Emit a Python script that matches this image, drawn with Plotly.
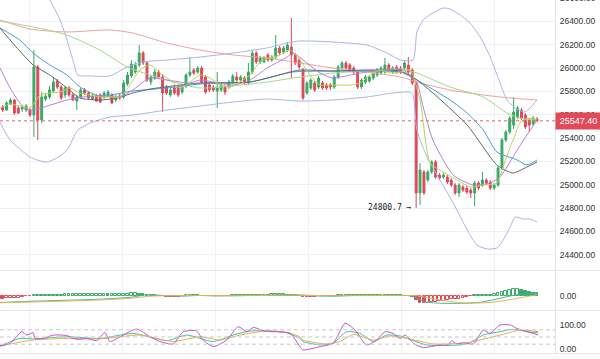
import plotly.graph_objects as go

# ---------------- candle data (index 0..137) ----------------
opens = [25666,25640,25692,25726,25657,25649,25640,25640,25597,26009,
         25554,25734,25752,25803,25889,25837,25769,25829,25769,25717,
         25752,25812,25786,25734,25760,25769,25752,25769,25769,25726,
         25760,25752,25863,25932,25966,26026,26129,26043,25880,25914,
         25966,25923,25837,25769,25829,25837,25794,25846,25940,25983,
         25966,26000,25923,25854,25837,25803,25812,25837,25837,25880,
         25923,25897,25914,25872,25966,26129,26052,26052,26112,26069,
         26094,26172,26137,26154,26180,26112,26069,25983,25786,25829,
         25872,25837,25872,25854,25854,25837,25923,26000,26043,26026,
         26000,25966,25837,25880,25889,25914,25940,25957,25966,26026,
         25966,26009,26000,26000,26026,25983,25872,24929,25109,25040,
         25109,25194,25083,25066,25066,25040,24997,24929,24980,24971,
         24954,24929,25014,24997,25040,25023,24971,24997,25143,25383,
         25452,25511,25580,25640,25597,25554,25520,25563]
highs = [25683,25717,25743,25734,25674,25683,25692,25657,26154,26026,
         25794,25786,25846,25923,25906,25854,25846,25846,25786,25769,
         25829,25829,25803,25777,25777,25786,25803,25812,25786,25769,
         25777,25897,25966,26069,26052,26197,26146,26060,25940,25992,
         25983,25949,25854,25829,25846,25854,25854,25957,26094,26000,
         26017,26017,25940,25872,25854,25966,25872,25854,25897,25949,
         25966,25940,25932,26043,26154,26146,26103,26103,26129,26112,
         26283,26189,26189,26223,26429,26129,26086,26000,25889,25914,
         25889,25932,25889,25872,25872,25940,26026,26060,26060,26043,
         26017,25983,25914,25940,25940,25974,26000,26017,26086,26043,
         26017,26026,26017,26060,26094,26000,25889,25186,25126,25126,
         25211,25211,25100,25100,25083,25057,25014,25014,24997,24989,
         24971,25032,25032,25109,25057,25040,25014,25160,25400,25469,
         25589,25752,25674,25657,25614,25571,25589,25580]
lows = [25623,25632,25683,25597,25606,25623,25623,25580,25409,25383,
        25529,25717,25734,25786,25820,25726,25743,25752,25717,25640,
        25734,25769,25734,25726,25709,25700,25734,25752,25692,25709,
        25726,25734,25846,25914,25949,26009,26026,25880,25854,25897,
        25906,25623,25769,25752,25769,25752,25777,25829,25923,25940,
        25949,25863,25777,25794,25794,25657,25794,25769,25820,25863,
        25880,25880,25854,25854,25949,26034,26034,26043,26052,26052,
        26077,26112,26120,26137,25914,26026,25992,25726,25769,25812,
        25794,25820,25812,25812,25812,25820,25906,25983,25983,25966,
        25949,25820,25820,25863,25872,25897,25923,25940,25949,25966,
        25949,25949,25949,25983,25949,25854,24800.7,24826,24912,25023,
        25092,25049,25040,25049,25006,24980,24912,24894,24937,24920,
        24886,24815,24954,24980,24997,24954,24954,24980,25126,25366,
        25434,25477,25563,25554,25477,25452,25503,25537]
closes = [25640,25700,25726,25614,25614,25666,25674,25597,26009,25554,
          25752,25760,25812,25880,25837,25743,25829,25769,25726,25752,
          25812,25786,25743,25760,25717,25709,25786,25794,25700,25752,
          25743,25872,25940,26034,26026,26129,26043,25897,25923,25966,
          25923,25786,25786,25812,25786,25769,25837,25940,25966,25957,
          26000,25880,25794,25812,25812,25829,25854,25794,25880,25932,
          25897,25923,25872,25966,26129,26052,26086,26086,26069,26094,
          26172,26129,26172,26197,26112,26043,26009,25743,25872,25897,
          25812,25914,25829,25829,25837,25923,26009,26043,26000,25983,
          25966,25837,25897,25923,25923,25957,25983,26000,26026,25983,
          26000,25966,25966,26043,25966,25872,24929,25126,24929,25109,
          25194,25066,25057,25083,25023,24997,24929,24997,24954,24937,
          24929,25014,24971,25040,25014,24971,24997,25143,25383,25452,
          25571,25623,25657,25571,25494,25511,25571,25547.4]
idx = list(range(len(closes)))

# ---------------- overlay indicators: (candle index, price) ----------------
ma5_i = [-0.7,1.9,4.4,7.0,9.6,12.1,14.7,17.3,19.8,22.4,24.9,27.5,30.1,32.6,35.2,37.8,40.3,42.9,45.5,48.0,
         50.6,53.2,55.7,58.3,60.8,63.4,66.0,68.5,71.1,73.7,76.2,78.8,81.4,83.9,86.5,89.1,91.6,94.2,96.7,99.3,
         101.9,104.4,107.0,109.6,112.9,116.5,119.8,123.2,126.7,128.3,130.1,131.4,132.6,135.2,137.0]
ma5_v = [25657,25692,25674,25657,25769,25786,25794,25829,25786,25769,25752,25752,25752,25854,25983,26026,25957,25897,25829,25880,
         25940,25914,25854,25837,25880,25940,26052,26086,26112,26154,26069,25940,25854,25854,25854,25854,25872,25940,25983,25957,
         25966,25983,25726,25186,25109,25040,24980,24997,25014,25152,25323,25426,25529,25571,25554]
ma10_i = [-0.7,1.9,4.4,6.2,9.6,16.5,20.6,24.9,30.1,33.4,36.0,37.8,42.1,48.0,50.6,59.1,63.4,67.8,72.9,74.4,
          78.0,81.4,84.7,89.1,93.4,99.3,102.7,106.2,107.8,110.3,115.5,120.6,124.9,127.5,131.9,134.4,137.0]
ma10_v = [26000,25829,25700,25640,25657,25726,25752,25760,25752,25812,25880,25914,25897,25872,25897,25854,25897,26000,26094,26129,
          26043,25957,25914,25940,25966,25983,25983,25872,25666,25383,25083,24997,25014,25066,25297,25426,25554]
ma20_i = [-0.7,1.9,7.8,12.1,16.5,19.8,24.9,29.3,33.4,37.8,50.6,63.4,73.7,76.2,84.7,93.4,101.9,105.2,110.3,119.1,
          126.7,130.8,134.4,137.0]
ma20_v = [26343,26240,26026,25940,25829,25743,25726,25743,25786,25820,25872,25880,25966,25983,25974,25983,25974,25923,25786,25511,
          25169,25100,25152,25194]
ma30_i = [-0.7,4.4,7.8,12.1,16.5,19.8,24.9,33.4,42.1,50.6,63.4,74.4,84.7,93.4,101.9,106.2,114.7,119.1,123.2,126.7,
          131.9,134.4,137.0]
ma30_v = [26343,26240,26129,26026,25940,25837,25760,25803,25829,25863,25880,25966,25974,25974,25966,25897,25726,25614,25469,25280,
          25212,25169,25212]
ma60_i = [-0.7,7.8,16.5,24.9,31.9,42.1,50.6,67.8,74.4,84.7,93.4,101.9,106.2,114.7,123.2,129.3,132.6,137.0]
ma60_v = [26403,26352,26283,26154,26009,25897,25829,25880,25914,25957,25974,25992,25957,25837,25752,25614,25571,25554]
ma120_i = [-0.7,7.0,16.5,27.5,33.4,42.1,50.6,59.1,67.8,76.2,84.7,93.4,101.9,107.0,114.7,123.2,130.1,137.0]
ma120_v = [26412,26334,26309,26326,26300,26214,26154,26112,26086,26043,26000,25966,25923,25872,25812,25769,25743,25726]
bbu_i = [-0.7,7.0,12.1,14.7,16.5,18.0,19.3,22.4,27.5,31.9,36.0,42.1,50.6,59.1,67.8,72.9,76.2,84.7,93.4,98.5,
         101.9,105.2,106.2,107.8,110.3,112.9,114.7,117.3,119.8,122.4,125.0,127.5,129.3,131.4,133.9,137.0]
bbu_v = [27100,26850,26583,26412,26240,26069,25940,25932,25932,26009,26052,26069,26094,26129,26172,26214,26232,26223,26197,26129,
         26069,26069,26309,26412,26472,26514,26506,26454,26386,26266,26094,25872,25726,25657,25623,25726]
bbl_i = [-0.7,1.9,7.0,8.8,11.4,13.9,16.5,19.3,22.4,27.5,33.4,42.1,50.6,59.1,67.8,76.2,84.7,93.4,100.1,104.4,
         105.2,106.2,108.8,112.1,115.5,119.1,121.6,124.2,126.7,128.3,130.1,131.4,133.4,135.2,137.0]
bbl_v = [25537,25383,25237,25212,25194,25229,25297,25469,25529,25580,25597,25640,25674,25709,25734,25717,25726,25752,25786,25794,
         25769,25469,25237,25040,24843,24612,24483,24449,24457,24526,24637,24723,24706,24706,24680]

# ---------------- MACD ----------------
macd_hist = [-12,-11,-10,-9,-8,-6,-3,-2,
             2,2,3,3,3,4,4,4,5,5,5,5,6,6,6,6,6,6,6,5,5,5,6,7,8,9,9,8,6,
             4,3,2,
             -2,-3,-4,-5,-5,-4,-2,
             2,3,3,2,
             -2,-3,-3,-3,-2,-2,-2,-1,
             1,2,2,2,3,3,3,4,4,4,5,5,5,5,4,3,2,
             -3,-5,-6,-5,-4,
             -3,-2,-2,-1,-1,1,2,
             3,3,3,
             2,2,2,1,1,2,2,2,2,2,1,1,-1,-2,
             -6,-16,-28,-31,-31,-27,-24,-22,-20,-18,-15,-13,-12,-10,-6,-3,2,2,3,3,
             4,8,12,16,19,21,25,26,23,19,15,11,9]
dif_i = [-0.7,8,25,33,36,38,42,46,50,55,60,70,75,80,85,90,95,100,104,106,108,112,119,122.4,125.7,129.3,132.6,137]
dif_v = [-27,-22,-14,-6,2,4,0,-2,1,-1,0,3,4,-1,-2,1,1,2,0,-8,-24,-30,-30,-26,-17,-4,6,9]
dea_i = [-0.7,8,25,33,38,45,60,75,85,100,104,106,112,117.3,120.6,125.7,130.8,136,137]
dea_v = [-28,-25,-17,-10,-2,1,0,2,0,1,1,0,-17,-28,-30,-26,-14,1.5,5]

# ---------------- KDJ ----------------
k_i = [-0.7,4.4,7.8,16.4,24.9,33.5,42,47.2,54,59.1,63.4,72,76.2,77,81.4,84.7,88.2,91.6,95,98.5,101.9,108.7,119,123.2,127.5,130.9,136,137.3]
k_v = [12.5,44,42,51,44,65,35,58,31,58,75,71,44,31,17,24,72,65,31,58,54,17,21,58,72,82,69,68]
d_i = [-0.7,7.8,16.4,24.9,35.2,43.7,50.6,55.7,60.8,66,72.8,76.2,77,83.1,86.5,89.9,95,99.3,103.6,110.4,119,124.1,129.2,132.6,137.3]
d_v = [12.5,37.5,44,42,58,31,51,37.5,58,72,69,51,37.5,21,31,61,37.5,54,44,21,26,44,65,79,72]
j_i = [-0.7,1.9,4.9,6.2,7.8,8.3,10.4,13,16.4,19,21.5,24.1,26.2,27.5,30.1,34.3,37.8,40.3,43.7,46.3,
       49.7,51.4,54,57.4,60.4,62.6,64.3,66.8,70.3,73.7,76.2,77,81.4,84.7,87.8,90.3,93.3,95.9,98,100.1,
       101.9,103.2,105.3,107.8,112.1,114.3,115.1,116.4,118.1,120.7,123.2,124.9,127.5,130.1,131.8,134.4,136,137.3]
j_v = [12.5,23.6,72,58,68,44,44,58,56,40,44,35,69,31,51,83,51,31,21,72,
       75,37,10,37,93,72,90,76,72,65,10,-4,10,24,107,79,17,37,72,65,
       44,58,24,6,17,17,35,21,26,21,79,65,100,100,86,72,65,58]

# ---------------- right-axis tick values ----------------
price_ticks = [24400, 24600, 24800, 25000, 25200, 25400, 25600, 25800, 26000, 26200, 26400]
kdj_ticks = [0, 100]
kdj_levels = [20, 50, 80]

UP = '#3aa867'
DN = '#e0475a'
GRID = '#eef1f5'
SEP = '#e2e5ec'
AXFONT = dict(family='Liberation Sans, Arial, sans-serif', size=8.5, color='#333333')

fig = go.Figure()
fig.add_trace(go.Candlestick(
    x=idx, open=opens, high=highs, low=lows, close=closes,
    increasing=dict(line=dict(color=UP, width=1), fillcolor=UP),
    decreasing=dict(line=dict(color=DN, width=1), fillcolor=DN),
    whiskerwidth=0, showlegend=False, xaxis='x', yaxis='y', hoverinfo='skip'))

def line(xs, ys, color, xa='x', ya='y', width=1):
    fig.add_trace(go.Scatter(x=xs, y=ys, mode='lines', xaxis=xa, yaxis=ya,
                             line=dict(color=color, width=width, shape='spline', smoothing=0.6),
                             showlegend=False, hoverinfo='skip'))

line(bbu_i, bbu_v, '#aab4ea')
line(bbl_i, bbl_v, '#aab4ea')
line(ma120_i, ma120_v, '#f0a0a0')
line(ma60_i, ma60_v, '#a9d68a')
line(ma30_i, ma30_v, '#3f9fd4')
line(ma20_i, ma20_v, '#666666')
line(ma10_i, ma10_v, '#b57ee0')
line(ma5_i, ma5_v, '#b9d44c')

# MACD histogram: hollow when rising, filled when falling
fills, outlines = [], []
for n, h in enumerate(macd_hist):
    c = UP if h >= 0 else DN
    rising = n > 0 and h >= macd_hist[n - 1]
    outlines.append(c)
    fills.append('#ffffff' if rising else c)
fig.add_trace(go.Bar(x=idx, y=macd_hist, xaxis='x2', yaxis='y2', width=0.7,
                     marker=dict(color=fills, line=dict(color=outlines, width=1)),
                     showlegend=False, hoverinfo='skip'))
line(dif_i, dif_v, '#3fb8a8', 'x2', 'y2')
line(dea_i, dea_v, '#e9b54c', 'x2', 'y2')

line(k_i, k_v, '#3fbfb0', 'x3', 'y3')
line(d_i, d_v, '#e6b04a', 'x3', 'y3')
line(j_i, j_v, '#cc4fd0', 'x3', 'y3')

H = 359.0
XR = [-0.69, 141.6]
VGRID = [6.75 + 23.85 * k for k in range(6)]
XD = [0, 555 / 600]
xcommon = dict(range=XR, domain=XD, showgrid=True, gridcolor=GRID, gridwidth=1, tickvals=VGRID,
               showticklabels=False, zeroline=False, showline=False, ticks='', fixedrange=True)
ycommon = dict(side='right', showline=True, linecolor=SEP, linewidth=1, ticks='', zeroline=False,
               tickfont=AXFONT, tickformat='.2f', fixedrange=True, ticklabelstandoff=2)

fig.update_layout(
    width=600, height=359, margin=dict(l=0, r=0, t=0, b=0),
    paper_bgcolor='white', plot_bgcolor='white', showlegend=False, bargap=0,
    xaxis=dict(anchor='y', rangeslider=dict(visible=False), **xcommon),
    xaxis2=dict(anchor='y2', **xcommon),
    xaxis3=dict(anchor='y3', **xcommon),
    yaxis=dict(domain=[1 - 270 / H, 1], range=[24269, 26583], tickvals=price_ticks,
               showgrid=True, gridcolor=GRID, **ycommon),
    yaxis2=dict(domain=[1 - 310 / H, 1 - 271 / H], range=[-57.2, 98.8], tickvals=[0],
                showgrid=False, **ycommon),
    yaxis3=dict(domain=[1 - 353 / H, 1 - 311 / H], range=[-16.7, 158.3], tickvals=kdj_ticks,
                showgrid=False, **ycommon),
)

shapes = []
for yp in [270.5, 310.5, 353.5]:
    shapes.append(dict(type='line', xref='paper', yref='paper', x0=0, x1=1,
                       y0=1 - yp / H, y1=1 - yp / H, line=dict(color=SEP, width=1)))
for lv in kdj_levels:
    shapes.append(dict(type='line', xref='x3 domain', yref='y3', x0=0, x1=1, y0=lv, y1=lv,
                       line=dict(color='#c9c9c9', width=1, dash='4px,3px')))
last = closes[-1]
shapes.append(dict(type='line', xref='x domain', yref='y', x0=0, x1=1, y0=last, y1=last,
                   line=dict(color='#e8616f', width=1, dash='3px,3px')))
fig.update_layout(shapes=shapes)

lo_i = min(idx, key=lambda n: lows[n])
ann = [
    dict(xref='paper', yref='y', x=555 / 600, y=last, xanchor='left', yanchor='middle',
         text=f'{last:.2f}', showarrow=False, bgcolor='#e04a59', borderpad=3,
         font=dict(family='Liberation Sans, Arial, sans-serif', size=9, color='white'), width=39),
    dict(xref='x', yref='y', x=lo_i, y=lows[lo_i], xanchor='right', yanchor='middle', xshift=-2,
         text=f'{lows[lo_i]:.1f} →', showarrow=False,
         font=dict(family='DejaVu Sans Mono, monospace', size=8, color='#222222')),
    dict(xref='paper', yref='paper', x=555 / 600, y=1 + 2 / H, xanchor='left', yanchor='middle', xshift=3,
         text=f'{26600:.2f}', showarrow=False, font=AXFONT),
    dict(xref='paper', yref='paper', x=555 / 600, y=-3 / H, xanchor='left', yanchor='middle', xshift=3,
         text=f'{100:.2f}', showarrow=False, font=AXFONT),
]
fig.update_layout(annotations=ann)

fig.write_html('out.html', config={'displayModeBar': False},
               post_script="document.body.style.margin='0';document.body.style.padding='0';")
